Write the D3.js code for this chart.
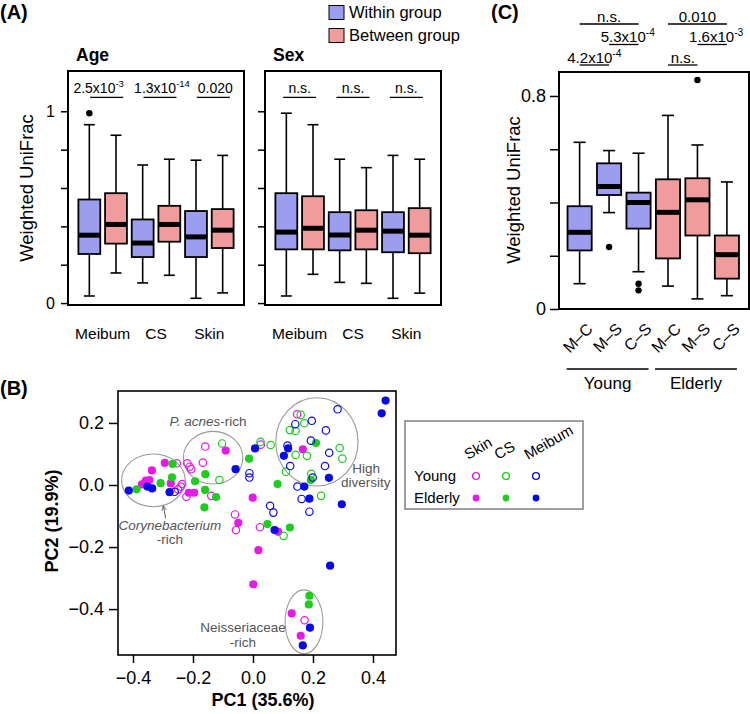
<!DOCTYPE html>
<html>
<head>
<meta charset="utf-8">
<script src="https://cdn.jsdelivr.net/npm/d3@7"></script>
<style>
  body { margin: 0; background: #fff; }
  svg text { font-family: "Liberation Sans", Arial, Helvetica, sans-serif; }
</style>
</head>
<body>
<script>

const width = 750;
const height = 714;

// ---- panel A : [low whisker, Q1, median, Q3, high whisker]
const siteNames = ['Meibum', 'CS', 'Skin'];
const kindNames = ['Within group', 'Between group'];
const ageStats = [
  [0.037, 0.256, 0.354, 0.540, 0.930],
  [0.157, 0.310, 0.410, 0.573, 0.875],
  [0.105, 0.240, 0.313, 0.436, 0.720],
  [0.145, 0.320, 0.410, 0.507, 0.750],
  [0.025, 0.240, 0.345, 0.480, 0.745],
  [0.053, 0.287, 0.380, 0.490, 0.770]
];
const ageOutliers = [[1, 0.99]];
const agePvals = [['2.5x10', '-3'], ['1.3x10', '-14'], ['0.020', '']];

const sexStats = [
  [0.037, 0.280, 0.370, 0.573, 0.990],
  [0.150, 0.280, 0.390, 0.557, 0.930],
  [0.108, 0.275, 0.355, 0.474, 0.750],
  [0.103, 0.280, 0.380, 0.484, 0.706],
  [0.025, 0.265, 0.375, 0.474, 0.770],
  [0.052, 0.260, 0.354, 0.495, 0.750]
];
const sexOutliers = [];
const sexPvals = [['n.s.', ''], ['n.s.', ''], ['n.s.', '']];

// ---- panel C
const pairNames = ['M\u2013C', 'M\u2013S', 'C\u2013S', 'M\u2013C', 'M\u2013S', 'C\u2013S'];
const ageGroups = ['Young', 'Elderly'];
const pairStats = [
  [0.095, 0.220, 0.288, 0.386, 0.626],
  [0.362, 0.428, 0.460, 0.547, 0.595],
  [0.140, 0.302, 0.400, 0.437, 0.585],
  [0.086, 0.190, 0.363, 0.487, 0.727],
  [0.038, 0.276, 0.410, 0.491, 0.616],
  [0.050, 0.114, 0.204, 0.276, 0.477]
];
const pairOutliers = [[2, 0.233], [3, 0.095], [3, 0.070], [5, 0.860]];
// [from box, to box, row, text, superscript]
const pairTests = [
  [1, 3, 0, 'n.s.', ''],
  [4, 6, 0, '0.010', ''],
  [2, 3, 1, '5.3x10', '-4'],
  [5, 6, 1, '1.6x10', '-3'],
  [1, 2, 2, '4.2x10', '-4'],
  [4, 5, 2, 'n.s.', '']
];

// ---- panel B : PCoA points [PC1, PC2]
const skinYoung = [[-0.254, 0.070], [-0.250, -0.014], [-0.241, -0.005], [-0.236, 0.003], [-0.222, -0.038],
  [-0.219, 0.070], [-0.211, 0.059], [-0.206, 0.051], [-0.167, 0.072], [-0.159, 0.124], [-0.139, -0.035],
  [-0.060, -0.095], [-0.057, -0.145], [0.023, -0.136], [0.147, 0.228], [0.026, 0.130], [0.172, -0.436]];
const skinElderly = [[-0.370, 0.002], [-0.357, 0.014], [-0.345, 0.016], [-0.337, 0.047], [-0.294, 0.071],
  [-0.274, 0.005], [-0.214, -0.025], [-0.196, -0.025], [-0.091, 0.111], [-0.049, -0.122], [-0.001, -0.041],
  [0.018, -0.210], [0.001, -0.320], [0.084, -0.151], [0.166, 0.115], [0.129, -0.414], [0.159, -0.486]];
const csYoung = [[-0.103, 0.134], [-0.112, 0.016], [0.025, 0.139], [0.059, 0.129], [0.102, -0.164],
  [0.159, 0.226], [0.171, 0.199], [0.123, 0.177], [0.142, 0.174], [0.142, 0.097], [0.180, 0.094],
  [0.110, 0.043], [0.194, 0.036], [0.289, 0.119], [0.298, 0.085], [0.227, -0.035]];
const csElderly = [[-0.388, -0.014], [-0.308, 0.006], [-0.268, 0.068], [-0.270, 0.025], [-0.193, 0.012],
  [-0.159, 0.035], [-0.160, -0.016], [-0.162, -0.072], [-0.123, -0.039], [-0.013, 0.085], [0.082, 0.003],
  [0.048, -0.126], [0.123, -0.137], [0.210, 0.135], [0.193, 0.016], [0.188, -0.357], [0.186, -0.385]];
const meibumYoung = [[-0.261, -0.022], [-0.012, 0.038], [-0.012, 0.024], [0.057, -0.067], [0.068, -0.089],
  [0.115, 0.127], [0.124, 0.061], [0.141, 0.196], [0.196, 0.207], [0.193, 0.143], [0.148, -0.005],
  [0.162, -0.045], [0.188, -0.086], [0.199, 0.024], [0.240, 0.061], [0.243, 0.176], [0.254, 0.104], [0.282, 0.244]];
const meibumElderly = [[-0.414, -0.018], [-0.352, -0.005], [-0.336, -0.011], [-0.278, -0.023], [-0.058, 0.051],
  [0.007, 0.118], [0.103, 0.094], [0.117, 0.118], [0.072, -0.145], [0.171, -0.005], [0.188, -0.044],
  [0.253, 0.023], [0.296, -0.062], [0.257, -0.260], [0.442, 0.272], [0.429, 0.231], [0.190, -0.460], [0.166, -0.517]];
// ellipses: [cx, cy, rx, ry] in PC units
const clusterRings = [[-0.332, 0.015, 0.106, 0.085], [-0.133, 0.088, 0.099, 0.085],
  [0.213, 0.139, 0.137, 0.142], [0.170, -0.441, 0.063, 0.103]];

const fills = ['#9d9df0', '#f09c9c'];
const siteColors = { Skin: '#e619e6', CS: '#1ecd1e', Meibum: '#0a0ae6' };

let svg = d3.select('body').append('svg')
            .attr('width', width)
            .attr('height', height);

function boxes(g, stats, outliers, x, y, w, colorOf){
    stats.forEach((s, i) => {
        let cx = x(i + 1);
        let half = (x(1 + w) - x(1)) / 2;
        g.append('line').attr('x1', cx).attr('x2', cx).attr('y1', y(s[0])).attr('y2', y(s[1]))
            .attr('stroke', '#000').attr('stroke-width', 1.6);
        g.append('line').attr('x1', cx).attr('x2', cx).attr('y1', y(s[3])).attr('y2', y(s[4]))
            .attr('stroke', '#000').attr('stroke-width', 1.6);
        [s[0], s[4]].forEach(v => {
            g.append('line').attr('x1', cx - half / 2).attr('x2', cx + half / 2)
                .attr('y1', y(v)).attr('y2', y(v))
                .attr('stroke', '#000').attr('stroke-width', 1.6);
        });
        g.append('rect')
            .attr('x', cx - half).attr('y', y(s[3]))
            .attr('width', half * 2).attr('height', y(s[1]) - y(s[3]))
            .attr('fill', colorOf(i)).attr('stroke', '#000').attr('stroke-width', 1.8);
        g.append('line').attr('x1', cx - half).attr('x2', cx + half)
            .attr('y1', y(s[2])).attr('y2', y(s[2]))
            .attr('stroke', '#000').attr('stroke-width', 5);
    });
    g.selectAll('circle.out')
        .data(outliers)
        .enter()
        .append('circle')
        .attr('class', 'out')
        .attr('cx', d => x(d[0]))
        .attr('cy', d => y(d[1]))
        .attr('r', 3.2)
        .attr('fill', '#000');
}

function pText(sel, main, sup, size){
    sel.append('tspan').text(main);
    if (sup) sel.append('tspan').attr('dy', -size * 0.4).attr('font-size', size * 0.68).text(sup);
}

function frame(g, x0, y0, x1, y1, sw){
    g.append('rect').attr('x', x0).attr('y', y0).attr('width', x1 - x0).attr('height', y1 - y0)
        .attr('fill', 'none').attr('stroke', '#000').attr('stroke-width', sw);
}

// ================= panel A =================
let gA = svg.append('g');
gA.append('text').attr('x', 0).attr('y', 18.5).attr('font-size', 20).attr('font-weight', 'bold').text('(A)');

const yA = d3.scaleLinear().domain([-0.01, 1.21]).range([305, 71]);
const panelsA = [
    { name: 'Age', x0: 68, stats: ageStats, out: ageOutliers, p: agePvals, shift: 4, tshift: [-4, 6, 6], labels: true },
    { name: 'Sex', x0: 265, stats: sexStats, out: sexOutliers, p: sexPvals, shift: 0, tshift: [0, 0, 0], labels: false }
];
panelsA.forEach(pn => {
    let x = d3.scaleLinear().domain([0.2, 6.8]).range([pn.x0, pn.x0 + 176]);
    let g = gA.append('g');
    boxes(g, pn.stats, pn.out, x, yA, 0.82, i => fills[i % 2]);
    frame(g, pn.x0, 71, pn.x0 + 176, 305, 2);
    g.append('text').attr('x', pn.x0 + 8).attr('y', 60.5)
        .attr('font-size', 17.5).attr('font-weight', 'bold').text(pn.name);

    let ax = g.append('g').attr('transform', `translate(${pn.x0},0)`)
        .call(d3.axisLeft(yA).tickValues([0, 0.2, 0.4, 0.6, 0.8, 1]).tickSize(7).tickSizeOuter(0)
            .tickPadding(6)
            .tickFormat(d => pn.labels && (d === 0 || d === 1) ? d3.format('d')(d) : ''));
    ax.select('.domain').remove();
    ax.selectAll('line').attr('stroke-width', 1.5);
    ax.selectAll('text').attr('font-size', 16).attr('font-family', null).attr('fill', '#000');

    siteNames.forEach((s, k) => {
        let cx = (x(2 * k + 1) + x(2 * k + 2)) / 2;
        g.append('text').attr('x', cx).attr('y', 339).attr('text-anchor', 'middle')
            .attr('font-size', 15.5).text(s);
        g.append('line').attr('x1', cx + pn.shift - 16.5).attr('x2', cx + pn.shift + 16.5)
            .attr('y1', 97.3).attr('y2', 97.3).attr('stroke', '#000').attr('stroke-width', 1.3);
        let t = g.append('text').attr('x', cx + pn.tshift[k]).attr('y', 93)
            .attr('text-anchor', 'middle').attr('font-size', 14);
        pText(t, pn.p[k][0], pn.p[k][1], 14);
    });

    if (pn.labels) {
        g.append('text')
            .attr('transform', `translate(33,188) rotate(-90)`)
            .attr('text-anchor', 'middle').attr('font-size', 18.5).text('Weighted UniFrac');
    }
});

// legend
kindNames.forEach((k, i) => {
    gA.append('rect').attr('x', 329).attr('y', 5.5 + i * 23).attr('width', 15).attr('height', 14)
        .attr('fill', fills[i]).attr('stroke', '#000').attr('stroke-width', 1);
    gA.append('text').attr('x', 349).attr('y', 18 + i * 23).attr('font-size', 16.5).text(k);
});

// ================= panel C =================
let gC = svg.append('g');
gC.append('text').attr('x', 491).attr('y', 18.5).attr('font-size', 20).attr('font-weight', 'bold').text('(C)');
const xC = d3.scaleLinear().domain([0.3, 6.75]).range([559, 749]);
const yC = d3.scaleLinear().domain([0, 0.89]).range([309, 72]);
boxes(gC, pairStats, pairOutliers, xC, yC, 0.82, i => fills[i < 3 ? 0 : 1]);
frame(gC, 559, 72, 749, 309, 2);

let axC = gC.append('g').attr('transform', 'translate(559,0)')
    .call(d3.axisLeft(yC).tickValues([0, 0.2, 0.4, 0.6, 0.8]).tickSize(9).tickSizeOuter(0).tickPadding(4)
        .tickFormat(d => d === 0 ? '0' : d === 0.8 ? '0.8' : ''));
axC.select('.domain').remove();
axC.selectAll('line').attr('stroke-width', 1.5);
axC.selectAll('text').attr('font-size', 18).attr('font-family', null).attr('fill', '#000');

gC.append('text')
    .attr('transform', `translate(520,190) rotate(-90)`)
    .attr('text-anchor', 'middle').attr('font-size', 18.5).text('Weighted UniFrac');

gC.selectAll('text.pair')
    .data(pairNames)
    .enter()
    .append('text')
    .attr('class', 'pair')
    .attr('transform', (d, i) => `translate(${xC(i + 1) + 10},${326}) rotate(-45)`)
    .attr('text-anchor', 'end')
    .attr('dy', '0.35em')
    .attr('font-size', 16)
    .text(d => d);

ageGroups.forEach((a, k) => {
    let x1 = xC(3 * k + 1) - 13, x2 = xC(3 * k + 3) + 10;
    gC.append('line').attr('x1', x1).attr('x2', x2).attr('y1', 369).attr('y2', 369)
        .attr('stroke', '#000').attr('stroke-width', 1.5);
    gC.append('text').attr('x', (x1 + x2) / 2).attr('y', 389).attr('text-anchor', 'middle')
        .attr('font-size', 17).text(a);
});

const rowY = [24, 44.5, 65];
pairTests.forEach(t => {
    let x1 = xC(t[0]), x2 = xC(t[1]);
    gC.append('line').attr('x1', x1).attr('x2', x2).attr('y1', rowY[t[2]]).attr('y2', rowY[t[2]])
        .attr('stroke', '#000').attr('stroke-width', 1.3);
    let tx = gC.append('text').attr('x', (x1 + x2) / 2 + (t[2] === 1 ? 4 : 0)).attr('y', rowY[t[2]] - 2.5)
        .attr('text-anchor', 'middle').attr('font-size', 15);
    pText(tx, t[3], t[4], 15);
});

// ================= panel B =================
let gB = svg.append('g');
gB.append('text').attr('x', 0).attr('y', 395).attr('font-size', 20).attr('font-weight', 'bold').text('(B)');
const xB = d3.scaleLinear().domain([-0.45, 0.4767]).range([118, 396]);
const yB = d3.scaleLinear().domain([-0.548, 0.303]).range([655, 391]);

gB.selectAll('ellipse')
    .data(clusterRings)
    .enter()
    .append('ellipse')
    .attr('cx', d => xB(d[0]))
    .attr('cy', d => yB(d[1]))
    .attr('rx', d => xB(d[2]) - xB(0))
    .attr('ry', d => yB(0) - yB(d[3]))
    .attr('fill', 'none')
    .attr('stroke', '#9a9a9a')
    .attr('stroke-width', 1.1);

const series = [
    { pts: skinYoung, site: 'Skin', open: true }, { pts: skinElderly, site: 'Skin', open: false },
    { pts: csYoung, site: 'CS', open: true }, { pts: csElderly, site: 'CS', open: false },
    { pts: meibumYoung, site: 'Meibum', open: true }, { pts: meibumElderly, site: 'Meibum', open: false }
];
series.forEach(s => {
    gB.append('g').selectAll('circle')
        .data(s.pts)
        .enter()
        .append('circle')
        .attr('cx', d => xB(d[0]))
        .attr('cy', d => yB(d[1]))
        .attr('r', s.open ? 3.7 : 4.1)
        .attr('fill', s.open ? 'none' : siteColors[s.site])
        .attr('stroke', s.open ? siteColors[s.site] : 'none')
        .attr('stroke-width', 1.2);
});

frame(gB, 118, 391, 396, 655, 1.6);

let axBy = gB.append('g').attr('transform', 'translate(118,0)')
    .call(d3.axisLeft(yB).tickValues([-0.4, -0.2, 0, 0.2]).tickSize(9).tickSizeOuter(0).tickPadding(5)
        .tickFormat(d3.format('.1f')));
let axBx = gB.append('g').attr('transform', 'translate(0,655)')
    .call(d3.axisBottom(xB).tickValues([-0.4, -0.2, 0, 0.2, 0.4]).tickSize(8).tickSizeOuter(0).tickPadding(8)
        .tickFormat(d3.format('.1f')));
[axBy, axBx].forEach(a => {
    a.select('.domain').remove();
    a.selectAll('line').attr('stroke-width', 1.5);
    a.selectAll('text').attr('font-size', 18).attr('font-family', null).attr('fill', '#000');
});

gB.append('text').attr('x', 263).attr('y', 706).attr('text-anchor', 'middle')
    .attr('font-size', 18).attr('font-weight', 'bold').text('PC1 (35.6%)');
gB.append('text').attr('transform', 'translate(58,521) rotate(-90)').attr('text-anchor', 'middle')
    .attr('font-size', 18).attr('font-weight', 'bold').text('PC2 (19.9%)');

// annotations
const note = (x, y, parts) => {
    let t = gB.append('text').attr('x', xB(x)).attr('y', yB(y)).attr('text-anchor', 'middle')
        .attr('font-size', 13.5).attr('fill', '#555');
    parts.forEach(p => t.append('tspan').attr('font-style', p[1] ? 'italic' : null).text(p[0]));
};
note(-0.150, 0.189, [['P. acnes', true], ['-rich', false]]);
note(-0.277, -0.145, [['Corynebacterium', true]]);
note(-0.277, -0.190, [['-rich', false]]);
note(0.377, 0.039, [['High', false]]);
note(0.376, -0.006, [['diversity', false]]);
note(-0.033, -0.474, [['Neisseriaceae', false]]);
note(-0.034, -0.523, [['-rich', false]]);

svg.append('defs').append('marker')
    .attr('id', 'arr').attr('viewBox', '0 0 10 10').attr('refX', 9).attr('refY', 5)
    .attr('markerWidth', 6).attr('markerHeight', 6).attr('orient', 'auto')
    .append('path').attr('d', 'M1,1 L9,5 L1,9').attr('fill', 'none').attr('stroke', '#555').attr('stroke-width', 1.2);
gB.append('line')
    .attr('x1', xB(-0.291)).attr('y1', yB(-0.107))
    .attr('x2', xB(-0.299)).attr('y2', yB(-0.067))
    .attr('stroke', '#555').attr('stroke-width', 1).attr('marker-end', 'url(#arr)');

// legend B
const legSites = ['Skin', 'CS', 'Meibum'];
const legRows = ['Young', 'Elderly'];
gB.append('rect').attr('x', 405).attr('y', 421).attr('width', 178).attr('height', 88)
    .attr('fill', 'none').attr('stroke', '#808080').attr('stroke-width', 1.5);
legSites.forEach((s, j) => {
    let cx = 476 + j * 30;
    gB.append('text').attr('transform', `translate(${cx - 8},460) rotate(-30)`)
        .attr('font-size', 15).text(s);
    legRows.forEach((r, i) => {
        gB.append('circle').attr('cx', cx).attr('cy', 476 + i * 22).attr('r', 3.4)
            .attr('fill', i === 0 ? '#fff' : siteColors[s])
            .attr('stroke', siteColors[s]).attr('stroke-width', i === 0 ? 1.4 : 0);
    });
});
legRows.forEach((r, i) => {
    gB.append('text').attr('x', 414).attr('y', 476 + i * 22).attr('dy', '0.35em')
        .attr('font-size', 15).text(r);
});

</script>
</body>
</html>
